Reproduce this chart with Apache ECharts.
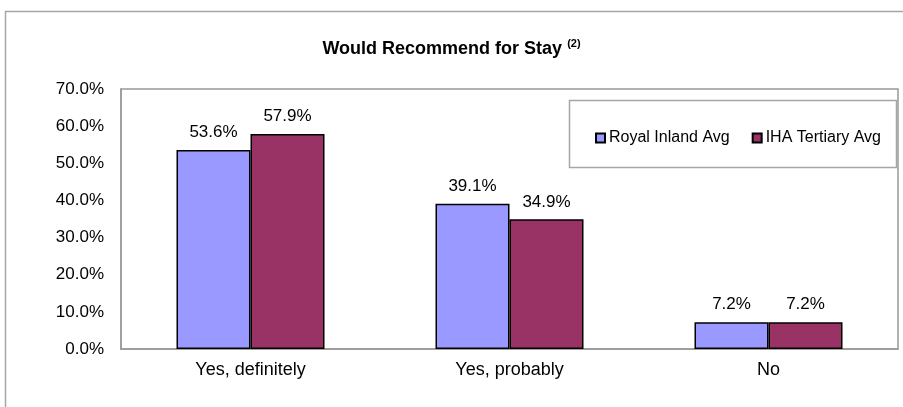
<!DOCTYPE html>
<html>
<head>
<meta charset="utf-8">
<script src="https://cdn.jsdelivr.net/npm/echarts@6/dist/echarts.min.js"></script>
<style>html,body{margin:0;padding:0;background:#fff}#c{width:903px;height:407px}</style>
</head>
<body>
<div id="c"></div>
<script>
var categories = ['Yes, definitely', 'Yes, probably', 'No'];
var royalInland = [53.6, 39.1, 7.2];
var ihaTertiary = [57.9, 34.9, 7.2];
var seriesNames = ['Royal Inland Avg', 'IHA Tertiary Avg'];
var yTicks = {min: 0, max: 70, interval: 10};

var FONT = '"Liberation Sans", Arial, sans-serif';
var chart = echarts.init(document.getElementById('c'), null, {renderer: 'canvas'});
var labelOpt = {
  show: true, position: 'top', distance: 9, color: '#000', fontSize: 17, fontFamily: FONT,
  formatter: function (p) { return p.value.toFixed(1) + '%'; }
};
chart.setOption({
  animation: false,
  textStyle: {fontFamily: FONT},
  title: {
    text: '{a|Would Recommend for Stay} {b|(2)}',
    left: 'center', top: 33,
    textStyle: {
      rich: {
        a: {fontSize: 18, fontWeight: 'bold', color: '#000', fontFamily: FONT, lineHeight: 22},
        b: {fontSize: 11, fontWeight: 'bold', color: '#000', fontFamily: FONT, verticalAlign: 'top', lineHeight: 22}
      }
    }
  },
  graphic: [
    {type: 'rect', silent: true, z: -10, shape: {x: 5.5, y: 11.5, width: 1200, height: 1200},
     style: {fill: 'none', stroke: '#a6a6a6', lineWidth: 1.5}},
    {type: 'rect', silent: true, z: 5, shape: {x: 569.5, y: 100.5, width: 327, height: 67},
     style: {fill: '#fff', stroke: '#a6a6a6', lineWidth: 1.5}}
  ],
  legend: {
    data: seriesNames,
    left: 590, top: 125, z: 10,
    itemWidth: 9, itemHeight: 9, itemGap: 22,
    icon: 'rect',
    textStyle: {fontSize: 16, color: '#000', fontFamily: FONT, padding: [0, 0, 0, -1]}
  },
  grid: {left: 121, right: 5, top: 89, bottom: 58, show: true, borderColor: '#999', borderWidth: 1.5, containLabel: false},
  xAxis: {
    type: 'category', data: categories,
    axisLine: {lineStyle: {color: '#999', width: 1.5}},
    axisTick: {show: false},
    axisLabel: {color: '#000', fontSize: 18, fontFamily: FONT, margin: 12}
  },
  yAxis: {
    type: 'value', min: yTicks.min, max: yTicks.max, interval: yTicks.interval,
    axisLine: {show: true, lineStyle: {color: '#999', width: 1.5}},
    axisTick: {show: false},
    splitLine: {show: false},
    axisLabel: {color: '#000', fontSize: 17, fontFamily: FONT, margin: 17,
      formatter: function (v) { return v.toFixed(1) + '%'; }}
  },
  series: [
    {name: seriesNames[0], type: 'bar', data: royalInland, barWidth: 74, barGap: '0%',
     itemStyle: {color: '#9999FF', borderColor: '#000', borderWidth: 1.5}, label: labelOpt},
    {name: seriesNames[1], type: 'bar', data: ihaTertiary, barWidth: 74, barGap: '0%',
     itemStyle: {color: '#993366', borderColor: '#000', borderWidth: 1.5}, label: labelOpt}
  ]
});
</script>
</body>
</html>
